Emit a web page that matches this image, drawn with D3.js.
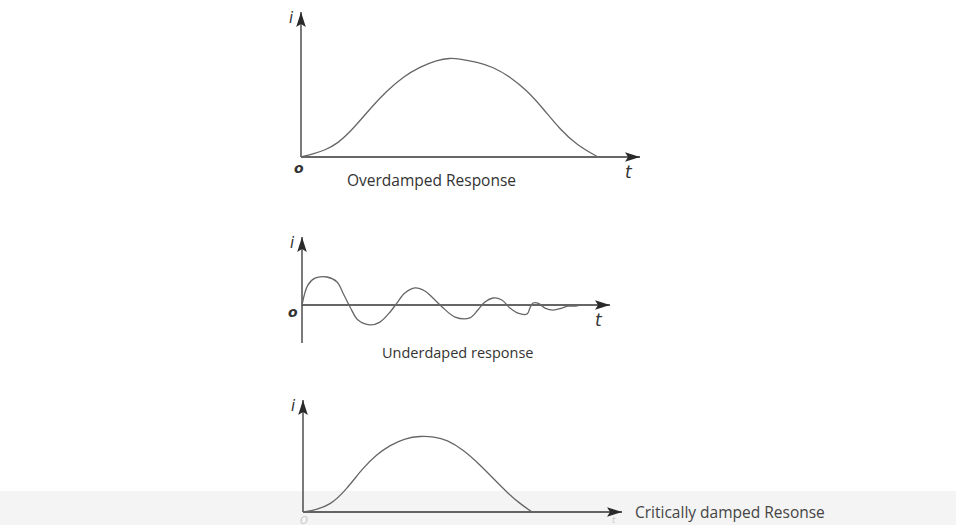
<!DOCTYPE html>
<html lang="en">
<head>
<meta charset="UTF-8"/>
<title>Damped Responses</title>
<script src="https://d3js.org/d3.v7.min.js"></script>
<style>
  body { margin: 0; background: #fff; }
  svg { display: block; }
</style>
</head>
<body>
<script>
    // Overdamped response (t, i), i normalised to peak = 1
    var overT = [0, 0.35, 0.71, 1.06, 1.53, 2.04, 2.54, 3.01, 3.51, 4.01, 4.40, 4.69, 5.2, 5.66, 6.17, 6.67, 7.14, 7.64, 8.14, 8.76];
    var overI = [0, 0.03, 0.07, 0.13, 0.28, 0.49, 0.67, 0.81, 0.91, 0.98, 1, 0.99, 0.96, 0.91, 0.81, 0.67, 0.49, 0.28, 0.12, 0];

    // Underdamped response, oscillating around zero
    var underT = [0, 0.19, 0.42, 0.81, 1.14, 1.33, 1.56, 1.82, 2.21, 2.53, 2.86, 3.08, 3.34, 3.67, 3.99,
                  4.25, 4.55, 4.97, 5.45, 5.71, 5.94, 6.2, 6.49, 6.75, 7.01, 7.31, 7.40, 7.50, 7.66,
                  7.89, 8.15, 8.44, 8.64, 8.86, 9.03];
    var underI = [0, 0.71, 0.96, 1.0, 0.82, 0.43, -0.07, -0.54, -0.71, -0.61, -0.25, 0.07, 0.43, 0.61, 0.5,
                  0.25, -0.07, -0.43, -0.46, -0.18, 0.11, 0.25, 0.18, -0.11, -0.29, -0.32, -0.11, 0.07, 0.07,
                  -0.11, -0.18, -0.11, -0.04, -0.04, 0];

    // Critically damped response
    var critT = [0, 0.41, 0.85, 1.35, 1.88, 2.29, 2.73, 3.20, 3.67, 4.11, 4.51, 5.02, 5.55, 5.99, 6.39, 6.80, 7.18];
    var critI = [0, 0.03, 0.09, 0.29, 0.58, 0.75, 0.88, 0.97, 1, 0.99, 0.95, 0.82, 0.62, 0.43, 0.26, 0.11, 0];

    var titles = ["Overdamped Response", "Underdaped response", "Critically damped Resonse"];

    var w = 956, h = 525;

    var svg = d3.select("body").append("svg")
        .attr("width", w)
        .attr("height", h);

    // faint grey band at the bottom of the scan
    svg.append("rect")
        .attr("x", 0).attr("y", 491).attr("width", w).attr("height", h - 491)
        .attr("fill", "#f4f4f4");

    // arrowhead marker
    var defs = svg.append("defs");
    defs.append("marker")
        .attr("id", "arrow")
        .attr("viewBox", "0 -5 15 10")
        .attr("refX", 15).attr("refY", 0)
        .attr("markerWidth", 15).attr("markerHeight", 10)
        .attr("markerUnits", "userSpaceOnUse")
        .attr("orient", "auto")
        .append("path")
        .attr("d", "M0,-4.8L15,0L0,4.8L3,0Z")
        .attr("fill", "#2a2a2a");

    var axisColour = "#333";
    var curveColour = "#666";

    // panel settings: where each little chart sits on the page
    var panels = [
        { t: overT, i: overI, x0: 301, x1: 640, tMax: 10, y0: 157, yPeak: 58, yTop: 12, yBottom: 157, curve: d3.curveBasis },
        { t: underT, i: underI, x0: 302, x1: 610, tMax: 10, y0: 305, yPeak: 277, yTop: 237, yBottom: 343, curve: d3.curveCatmullRom.alpha(0.5) },
        { t: critT, i: critI, x0: 303, x1: 622, tMax: 10, y0: 512, yPeak: 436, yTop: 400, yBottom: 512, curve: d3.curveBasis }
    ];

    panels.forEach(function(p, k) {
        var x = d3.scaleLinear().domain([0, p.tMax]).range([p.x0, p.x1]);
        var y = d3.scaleLinear().domain([0, 1]).range([p.y0, p.yPeak]);

        var g = svg.append("g");

        // time axis
        g.append("line")
            .attr("x1", x(0)).attr("y1", y(0))
            .attr("x2", x(p.tMax)).attr("y2", y(0))
            .attr("stroke", axisColour).attr("stroke-width", 1.3)
            .attr("marker-end", "url(#arrow)");

        // current axis
        g.append("line")
            .attr("x1", x(0)).attr("y1", p.yBottom)
            .attr("x2", x(0)).attr("y2", p.yTop)
            .attr("stroke", axisColour).attr("stroke-width", 1.3)
            .attr("marker-end", "url(#arrow)");

        var pts = p.t.map(function(d, j) { return [d, p.i[j]]; });
        var line = d3.line()
            .x(function(d) { return x(d[0]); })
            .y(function(d) { return y(d[1]); })
            .curve(p.curve);

        g.append("path")
            .attr("d", line(pts))
            .attr("fill", "none")
            .attr("stroke", curveColour)
            .attr("stroke-width", 1.3);

        // axis letters
        var faint = (k === 2);
        g.append("text")
            .attr("x", x(0) - 12).attr("y", p.yTop + 11)
            .attr("font-family", "DejaVu Sans").attr("font-style", "italic")
            .attr("font-size", 15).attr("fill", "#333")
            .text("i");
        g.append("text")
            .attr("x", x(0) - (k === 1 ? 14 : faint ? 3 : 7))
            .attr("y", faint ? 524 : y(0) + (k === 1 ? 12 : 16))
            .attr("font-family", "DejaVu Sans").attr("font-style", "italic")
            .attr("font-weight", faint ? "normal" : "bold")
            .attr("font-size", faint ? 10 : 14).attr("fill", faint ? "#c8c8c8" : "#333")
            .text(faint ? "O" : "o");
        g.append("text")
            .attr("x", faint ? x(p.tMax) - 10 : x(p.tMax) - 15)
            .attr("y", faint ? 523 : y(0) + 21)
            .attr("font-family", "DejaVu Sans").attr("font-style", "italic")
            .attr("font-size", faint ? 8 : 17).attr("fill", faint ? "#c8c8c8" : "#333")
            .text("t");
    });

    // captions
    svg.append("text").attr("x", 347).attr("y", 186)
        .attr("font-family", "Open Sans").attr("font-size", 15.5).attr("fill", "#333")
        .text(titles[0]);
    svg.append("text").attr("x", 382).attr("y", 358)
        .attr("font-family", "Open Sans").attr("font-size", 14.5).attr("fill", "#333")
        .text(titles[1]);
    svg.append("text").attr("x", 635).attr("y", 518)
        .attr("font-family", "Open Sans").attr("font-size", 15.5).attr("fill", "#444")
        .text(titles[2]);
</script>
</body>
</html>
